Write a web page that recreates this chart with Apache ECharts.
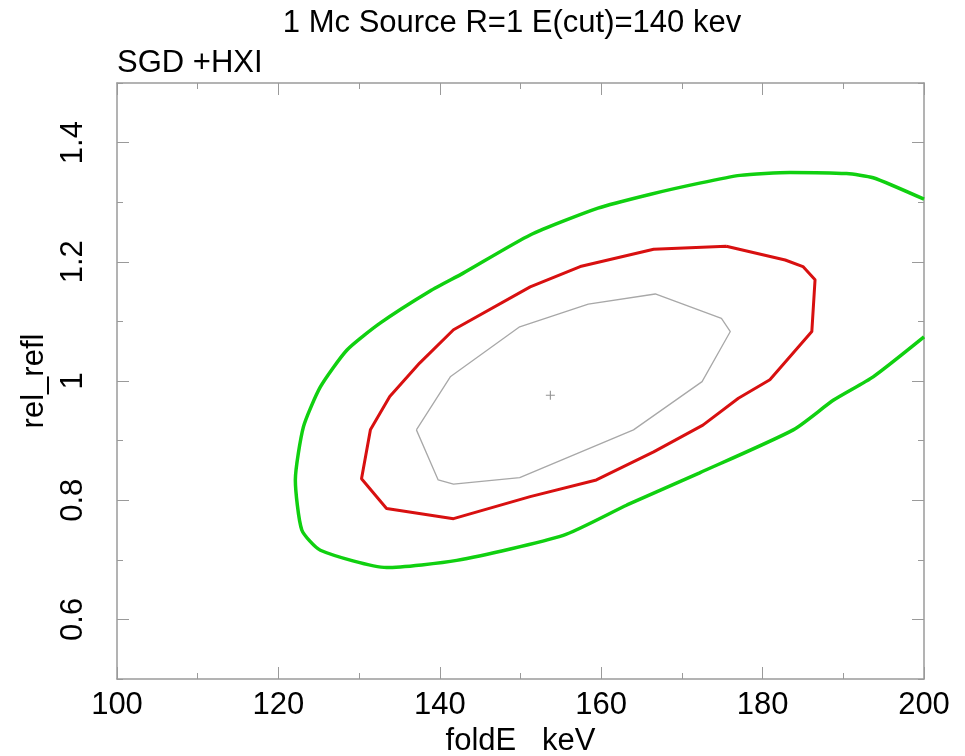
<!DOCTYPE html>
<html>
<head>
<meta charset="utf-8">
<script src="https://cdn.jsdelivr.net/npm/echarts@6/dist/echarts.min.js"></script>
<style>
    html, body { margin: 0; padding: 0; background: #fff; }
    #chart { width: 965px; height: 756px; }
</style>
</head>
<body>
<div id="chart"></div>
<script>
    // contour levels (foldE in keV, rel_refl)
    const greenE = [200, 193.7, 190.4, 183.4, 177.2, 172.2, 166.0, 159.6, 151.2, 142.9, 138.8, 132.6, 128.5, 125.2, 123.1, 122.1, 122.9, 125.2, 133.4, 142.1, 155.3, 163.2, 172.2, 183.8, 188.8, 193.7, 200]
    const greenR = [1.305, 1.341, 1.348, 1.350, 1.345, 1.332, 1.313, 1.290, 1.245, 1.181, 1.151, 1.097, 1.052, 0.990, 0.923, 0.834, 0.750, 0.716, 0.687, 0.699, 0.741, 0.792, 0.846, 0.918, 0.968, 1.007, 1.074]

    const redE = [175.5, 182.8, 185.0, 186.5, 186.1, 180.9, 177.0, 172.6, 166.5, 159.4, 151.2, 141.7, 133.4, 130.3, 131.4, 133.8, 137.5, 141.7, 151.2, 157.4, 166.5, 175.5]
    const redR = [1.226, 1.203, 1.192, 1.170, 1.083, 1.002, 0.971, 0.926, 0.881, 0.834, 0.806, 0.769, 0.786, 0.836, 0.918, 0.974, 1.030, 1.086, 1.158, 1.192, 1.221, 1.226]

    const greyE = [137.1, 139.8, 141.7, 149.9, 164.0, 172.5, 176.0, 174.9, 166.7, 158.4, 149.9, 141.3, 137.1]
    const greyR = [0.918, 0.834, 0.827, 0.838, 0.918, 0.999, 1.083, 1.105, 1.146, 1.129, 1.091, 1.007, 0.918]

    const bestE = [153.7]
    const bestR = [0.976]

    const yMajor = [0.6, 0.8, 1, 1.2, 1.4]
    const yMinor = [0.5, 0.7, 0.9, 1.1, 1.3, 1.5]

    const font = '"Liberation Sans", Arial, sans-serif'
    const fs = 31
    const frameColor = '#9a9a9a'

    const zip = (a, b) => a.map((v, i) => [v, b[i]])

    const chart = echarts.init(document.getElementById('chart'))

    function xAxisCfg(pos, withLabels){
        return {
            type: 'value',
            position: pos,
            min: 100,
            max: 200,
            interval: 20,
            name: withLabels ? 'foldE   keV' : '',
            nameLocation: 'middle',
            nameGap: 46,
            nameTextStyle: { fontFamily: font, fontSize: fs, color: '#000' },
            axisLine: { show: true, onZero: false, lineStyle: { color: frameColor, width: 1.5 } },
            axisTick: { show: true, inside: true, length: 12, lineStyle: { color: frameColor } },
            minorTick: { show: true, splitNumber: 2, length: 6, lineStyle: { color: frameColor } },
            splitLine: { show: false },
            axisLabel: { show: withLabels, margin: 11, fontFamily: font, fontSize: fs, color: '#000' }
        }
    }

    function yAxisCfg(pos, major, withLabels){
        return {
            type: 'value',
            position: pos,
            min: 0.5,
            max: 1.5,
            name: withLabels ? 'rel_refl' : '',
            nameLocation: 'middle',
            nameGap: 66,
            nameRotate: 90,
            nameTextStyle: { fontFamily: font, fontSize: fs, color: '#000' },
            axisLine: { show: major, onZero: false, lineStyle: { color: frameColor, width: 1.5 } },
            axisTick: { show: true, inside: true, length: major ? 12 : 6,
                        customValues: major ? yMajor : yMinor, lineStyle: { color: frameColor } },
            splitLine: { show: false },
            axisLabel: { show: withLabels, customValues: yMajor, rotate: 90, margin: 28,
                         fontFamily: font, fontSize: fs, color: '#000' }
        }
    }

    const option = {
        animation: false,
        backgroundColor: '#fff',
        grid: { left: 117, right: 41, top: 83, bottom: 77, containLabel: false, outerBoundsMode: 'none' },
        graphic: [
            { type: 'text', x: 512, y: 23, style: { text: '1 Mc Source R=1 E(cut)=140 kev', font: fs + 'px ' + font,
              fill: '#000', textAlign: 'center', textVerticalAlign: 'middle' } },
            { type: 'text', x: 117, y: 63, style: { text: 'SGD +HXI', font: fs + 'px ' + font,
              fill: '#000', textAlign: 'left', textVerticalAlign: 'middle' } }
        ],
        xAxis: [xAxisCfg('bottom', true), xAxisCfg('top', false)],
        yAxis: [
            yAxisCfg('left', true, true),
            yAxisCfg('left', false, false),
            yAxisCfg('right', true, false),
            yAxisCfg('right', false, false)
        ],
        series: [
            {
                name: '99%', type: 'line', showSymbol: false, silent: true, smooth: 0.2,
                data: zip(greenE, greenR),
                lineStyle: { color: '#10d010', width: 3.5 }
            },
            {
                name: '90%', type: 'line', showSymbol: false, silent: true,
                data: zip(redE, redR),
                lineStyle: { color: '#d81010', width: 3 }
            },
            {
                name: '68%', type: 'line', showSymbol: false, silent: true,
                data: zip(greyE, greyR),
                lineStyle: { color: '#a8a8a8', width: 1.3 }
            },
            {
                name: 'best fit', type: 'scatter', silent: true,
                data: zip(bestE, bestR),
                symbol: 'path://M4.4,0H5.6V10H4.4ZM0,4.4H10V5.6H0Z',
                symbolSize: 9,
                itemStyle: { color: '#777' }
            }
        ]
    }

    chart.setOption(option)
</script>
</body>
</html>
